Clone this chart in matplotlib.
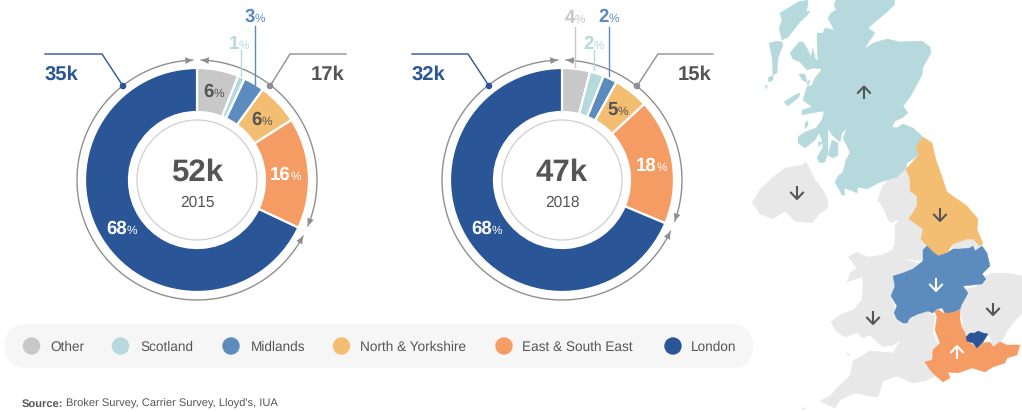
import numpy as np
import matplotlib
matplotlib.use('Agg')
import matplotlib.pyplot as plt
from matplotlib.patches import Circle, FancyBboxPatch, Polygon

plt.rcParams['font.family'] = ['Liberation Sans', 'DejaVu Sans']
plt.rcParams['text.hinting'] = 'no_hinting'

W, H = 1022, 412

regions = ['Other', 'Scotland', 'Midlands', 'North & Yorkshire', 'East & South East', 'London']
colors = ['#c8c8c8', '#b5d9dd', '#5b8cbd', '#f3be72', '#f59c64', '#2a5596']
legend_x = [31.5, 120.5, 231, 341.5, 504, 673]
shares_2015 = [6, 1, 3, 6, 16, 68]
shares_2018 = [4, 2, 2, 5, 18, 68]
totals = ['52k', '47k']
years = ['2015', '2018']
london_k = ['35k', '32k']
rest_k = ['17k', '15k']

TEXT = '#555555'
LINE = '#8f8f8f'
MAP_GREY = '#e8e8e8'

# map outlines, in image pixels
scot_main = [(836,0),(895,0),(894,5),(887,12),(875,22),(868,28),(875,33),(868,43),(865,49),(873,43),
             (887,39),(900,42),(922,41),(930,47),(931,53),(923,67),(922,75),(915,88),(910,97),(903,106),
             (908,113),(902,118),(895,121),(892,127),(897,128),(903,124),(913,128),(923,137),(917,147),(919,155),
             (907,163),(906,168),(897,177),(887,180),(878,183),(867,189),(858,187),(857,193),(850,190),(844,188),
             (845,195),(842,195),(835,182),(838,176),(843,172),(846,160),(850,153),(848,148),(843,138),(847,128),
             (842,133),(840,142),(832,135),(828,128),(828,140),(828,153),(825,162),(820,163),(817,158),(823,147),
             (822,140),(819,133),(822,127),(815,140),(805,148),(798,143),(798,137),(805,132),(816,128),(822,120),
             (824,112),(822,111),(802,115),(802,110),(812,107),(803,100),(805,93),(807,87),(812,85),(815,78),
             (822,69),(813,68),(807,70),(800,62),(793,59),(790,53),(799,42),(803,42),(808,50),(811,57),
             (813,48),(815,58),(818,61),(817,43),(817,33),(823,33),(825,28),(834,30),(828,18),(831,13),(836,10),(834,5)]
scot_islands = [
    [(780,13),(785,10),(798,2),(808,0),(808,5),(805,17),(800,22),(788,37),(782,40),(779,28),(782,20)],
    [(805,12),(810,11),(806,17)],
    [(769,43),(777,41),(782,42),(783,45),(778,58),(777,73),(773,75),(772,57)],
    [(768,78),(773,75),(773,80),(769,82)],
    [(765,86),(767,85),(767,89)],
    [(799,74),(805,74),(807,82),(802,80)],
    [(807,82),(810,80),(808,87)],
    [(784,102),(795,95),(800,93),(799,97),(788,106)],
    [(805,123),(808,121),(808,125),(805,129)],
    [(818,142),(822,142),(819,147)],
    [(832,140),(838,143),(838,155),(833,158),(828,155)],
]
n_ireland = [(752,203),(760,190),(772,178),(785,168),(803,165),(805,162),(808,165),(815,180),(823,190),(828,200),
             (828,206),(827,209),(820,213),(812,223),(803,222),(795,221),(785,211),(773,219),(760,214),(755,206)]
north = [(923,137),(932,143),(936,160),(942,177),(947,192),(967,206),(978,219),(977,229),(983,244),(980,246),
         (973,239),(967,239),(953,244),(947,253),(938,256),(932,251),(927,246),(921,239),(923,229),(909,219),
         (917,206),(917,196),(910,191),(910,179),(906,169),(919,155),(916,147)]
north_west = [(906,168),(910,179),(910,191),(917,196),(920,206),(909,219),(923,229),(921,239),(927,246),(923,250),
              (923,261),(900,258),(890,256),(895,243),(895,226),(899,219),(890,223),(882,206),(878,200),(882,187),(888,180),(897,177)]
wales = [(848,257),(857,252),(863,255),(868,257),(882,255),(893,250),(900,258),(918,263),(910,273),(893,275),
         (897,283),(891,297),(895,307),(893,315),(900,320),(907,323),(908,317),(905,337),(893,345),(883,347),
         (875,340),(870,335),(862,338),(858,332),(845,337),(835,330),(831,322),(840,315),(853,310),(862,300),
         (863,283),(862,277),(847,282),(850,273),(857,268)]
south_west = [(903,323),(910,321),(918,314),(928,311),(935,316),(933,333),(938,346),(932,351),(931,361),(925,363),
              (932,369),(935,376),(925,381),(912,383),(897,376),(883,381),(878,397),(870,396),(855,393),(840,400),
              (835,408),(820,401),(830,396),(837,388),(850,376),(853,361),(870,351),(893,353),(903,336)]
tiny_dots = [[(802,408),(805,408),(804,410)], [(847,353),(850,354),(848,356)]]
south_east = [(935,312),(938,309),(943,313),(950,313),(960,310),(960,320),(962,328),(965,333),(967,340),(977,348),
              (983,343),(990,342),(993,347),(1000,342),(1007,345),(1020,345),(1017,355),(1007,358),(1005,363),(993,367),
              (985,372),(972,368),(958,373),(948,372),(950,378),(943,382),(935,375),(930,370),(925,362),(932,360),
              (933,350),(940,343),(935,330),(937,317)]
london_map = [(966,337),(970,333),(975,333),(978,331),(983,333),(988,334),(983,342),(977,348),(973,343),(967,341)]
east = [(962,306),(967,289),(983,284),(987,279),(985,276),(993,273),(1007,273),(1022,276),(1022,313),(1013,323),
        (1007,331),(1003,339),(998,346),(990,348),(992,341),(988,334),(975,333),(966,337),(962,331),(963,323),(960,309)]
midlands = [(927,246),(932,251),(938,256),(947,253),(953,249),(960,249),(970,248),(973,246),(975,251),(982,246),
            (987,253),(990,266),(982,274),(986,279),(982,284),(963,286),(968,293),(962,304),(960,309),(953,313),
            (945,313),(942,308),(937,309),(933,313),(928,311),(918,314),(910,318),(907,323),(903,323),(897,319),
            (894,313),(897,306),(891,296),(895,286),(893,276),(903,273),(913,269),(923,261),(923,250)]
lincs = [(953,244),(967,239),(973,239),(980,246),(975,251),(973,246),(970,248),(960,249),(953,249)]


def Y(py):
    return H - py


def flip(pts):
    return [(x, Y(y)) for x, y in pts]


def pct_label(ax, x, y, value, color):
    # bold number with a small regular % sign, split at x
    ax.text(x, Y(y), str(value), ha='right', va='baseline', fontsize=13.4, fontweight='bold', color=color)
    ax.text(x, Y(y), '%', ha='left', va='baseline', fontsize=8.6, color=color)


def arc_with_heads(ax, cx, cy, r, a0, a1):
    # angles in degrees clockwise from the top, head on both ends
    a = np.radians(np.linspace(a0, a1, 200))
    ax.plot(cx + r * np.sin(a), Y(cy) + r * np.cos(a), color=LINE, lw=1.0, zorder=2)
    for ang, sign in ((a0, -1), (a1, 1)):
        t = np.radians(ang)
        back = np.radians(ang - sign * 3.6)
        tip = (cx + r * np.sin(t), Y(cy) + r * np.cos(t))
        p1 = (cx + (r + 3.4) * np.sin(back), Y(cy) + (r + 3.4) * np.cos(back))
        p2 = (cx + (r - 3.4) * np.sin(back), Y(cy) + (r - 3.4) * np.cos(back))
        ax.add_patch(Polygon([tip, p1, p2], closed=True, fc=LINE, ec='none', zorder=3))


def donut(ax, cx, shares, total, year):
    ax.pie(shares, colors=colors, startangle=90, counterclock=False, center=(cx, Y(180)), radius=112, frame=True,
           wedgeprops=dict(width=44, edgecolor='white', linewidth=1.6))
    ax.add_patch(Circle((cx, Y(180)), 60, fc='white', ec='#cfcfcf', lw=0.9))
    split = 360 * sum(shares[:-1]) / sum(shares)
    arc_with_heads(ax, cx, 180, 120, 2, split - 2.7)
    arc_with_heads(ax, cx, 180, 120, split + 2.7, 358)
    ax.text(cx, Y(181), total, ha='center', va='baseline', fontsize=22.5, fontweight='bold', color=TEXT)
    ax.text(cx, Y(207), year, ha='center', va='baseline', fontsize=11.2, color=TEXT)


def leader(ax, xs, ys, color):
    ax.plot(xs, [Y(y) for y in ys], color=color, lw=1.0, zorder=2, solid_joinstyle='miter')


def map_arrow(ax, x, y0, y1, color):
    # arrow from y0 to y1, head at y1
    d = 4.5 if y1 > y0 else -4.5
    ax.plot([x, x], [Y(y0), Y(y1)], color=color, lw=1.5, solid_capstyle='butt', zorder=5)
    ax.plot([x - 6, x, x + 6], [Y(y1 - d * 1.4), Y(y1), Y(y1 - d * 1.4)], color=color, lw=1.5, zorder=5)


def land(ax, pts, color, z):
    ax.add_patch(Polygon(flip(pts), closed=True, fc=color, ec=color, lw=0.3, zorder=z))


fig = plt.figure(figsize=(W / 100, H / 100), dpi=100)
ax = fig.add_axes([0, 0, 1, 1])

donut(ax, 197, shares_2015, totals[0], years[0])
donut(ax, 562, shares_2018, totals[1], years[1])

# leaders, 2015
leader(ax, [45, 102, 123], [54, 54, 86], colors[5])
leader(ax, [346, 290, 270], [54, 54, 86], LINE)
leader(ax, [240.7, 240.7], [50, 76], colors[1])
leader(ax, [255, 255], [26, 85], colors[2])
# leaders, 2018
leader(ax, [412, 468, 489], [54, 54, 86], colors[5])
leader(ax, [713, 658, 637], [54, 54, 86], LINE)
leader(ax, [575, 575], [27, 67], '#c8c8c8')
leader(ax, [594, 594], [50, 70], colors[1])
leader(ax, [609, 609], [27, 76], colors[2])
for x, c in ((123, colors[5]), (270, LINE), (489, colors[5]), (637, LINE)):
    ax.add_patch(Circle((x, Y(86)), 3.3, fc=c, ec='none', zorder=4))

ax.text(45, Y(80), london_k[0], ha='left', va='baseline', fontsize=14.6, fontweight='bold', color=colors[5])
ax.text(345, Y(80), rest_k[0], ha='right', va='baseline', fontsize=14.6, fontweight='bold', color=TEXT)
ax.text(412, Y(80), london_k[1], ha='left', va='baseline', fontsize=14.6, fontweight='bold', color=colors[5])
ax.text(712, Y(80), rest_k[1], ha='right', va='baseline', fontsize=14.6, fontweight='bold', color=TEXT)

# slice labels
pct_label(ax, 213.3, 97, shares_2015[0], TEXT)
pct_label(ax, 239, 49, shares_2015[1], colors[1])
pct_label(ax, 255, 22, shares_2015[2], colors[2])
pct_label(ax, 262, 125, shares_2015[3], TEXT)
pct_label(ax, 290.7, 180, shares_2015[4], 'white')
pct_label(ax, 126.7, 234, shares_2015[5], 'white')
pct_label(ax, 575, 23, shares_2018[0], '#c8c8c8')
pct_label(ax, 594, 49, shares_2018[1], colors[1])
pct_label(ax, 609, 22, shares_2018[2], colors[2])
pct_label(ax, 618, 115, shares_2018[3], TEXT)
pct_label(ax, 656.7, 171, shares_2018[4], 'white')
pct_label(ax, 492, 234, shares_2018[5], 'white')

# legend pill
ax.add_patch(FancyBboxPatch((5 + 22, Y(368) + 22), 748 - 44, 0, boxstyle='round,pad=22', fc='#f6f6f6', ec='none', zorder=0))
label_x = [50.5, 140, 250.5, 360.5, 522.5, 690.5]
for name, c, cx, tx in zip(regions, colors, legend_x, label_x):
    ax.add_patch(Circle((cx, Y(346)), 8.7, fc=c, ec='none', zorder=2))
    ax.text(tx, Y(346), name, ha='left', va='center_baseline', fontsize=9.8, color=TEXT)

ax.text(22, Y(407), 'Source:', ha='left', va='baseline', fontsize=8.0, fontweight='bold', color=TEXT)
ax.text(66.5, Y(407), "Broker Survey, Carrier Survey, Lloyd's, IUA", ha='left', va='baseline', fontsize=8.0, color=TEXT)

# map
for poly in [n_ireland, north_west, wales, south_west, east, lincs] + tiny_dots:
    land(ax, poly, MAP_GREY, 1)
for poly in [scot_main] + scot_islands:
    land(ax, poly, colors[1], 1)
land(ax, north, colors[3], 2)
land(ax, midlands, colors[2], 2)
land(ax, south_east, colors[4], 2)
land(ax, london_map, colors[5], 3)

map_arrow(ax, 864, 99, 86.5, TEXT)
map_arrow(ax, 797, 186, 199, TEXT)
map_arrow(ax, 940, 208, 221, TEXT)
map_arrow(ax, 936, 278, 291, 'white')
map_arrow(ax, 993, 303, 315, TEXT)
map_arrow(ax, 873, 311, 324, TEXT)
map_arrow(ax, 957, 359, 346, 'white')

ax.set_xlim(0, W)
ax.set_ylim(0, H)
ax.set_aspect('auto')
ax.axis('off')

fig.savefig('out.png', dpi=100, facecolor='white')
